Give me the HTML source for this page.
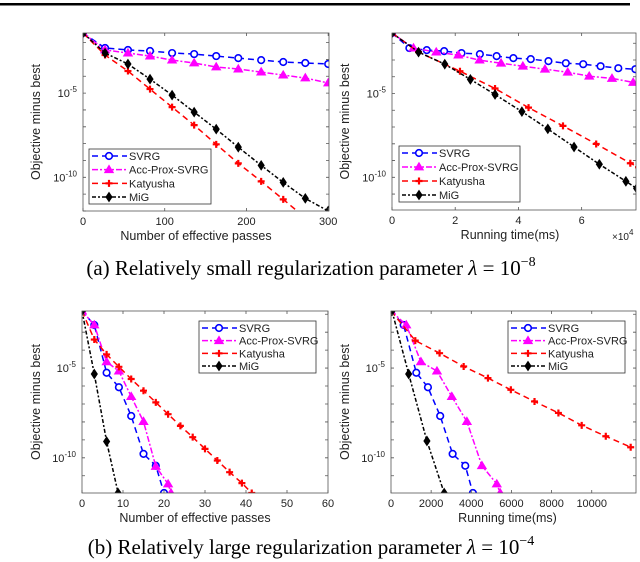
<!DOCTYPE html>
<html><head><meta charset="utf-8"><style>
html,body{margin:0;padding:0;background:#fff;}
svg{display:block;font-family:"Liberation Sans",Arial,sans-serif;}
.cap{font-family:"Liberation Serif","Times New Roman",serif;}
</style></head><body>
<svg id="fig" width="640" height="562" viewBox="0 0 640 562">
<rect x="0" y="3" width="630" height="2.5" fill="#000"/>
<text class="cap" x="311" y="275" font-size="21" text-anchor="middle">(a)  Relatively small regularization parameter <tspan font-style="italic">λ</tspan> = 10<tspan dy="-9" font-size="14">−8</tspan></text>
<text class="cap" x="311" y="554" font-size="21" text-anchor="middle">(b)  Relatively large regularization parameter <tspan font-style="italic">λ</tspan> = 10<tspan dy="-9" font-size="14">−4</tspan></text>
</svg>
<script>
// ---- Panel A1: passes, small lambda ----
const a1SvrgX=[0,27,55,82,109,136,163,190,218,245,272,300];
const a1SvrgY=[-1.43,-2.32,-2.44,-2.5,-2.62,-2.68,-2.8,-2.92,-3.04,-3.15,-3.21,-3.27];
const a1AccX=[0,27,55,82,109,136,163,190,218,245,272,300];
const a1AccY=[-1.43,-2.44,-2.62,-2.8,-3.04,-3.21,-3.45,-3.57,-3.75,-3.93,-4.1,-4.4];
const a1KatX=[0,27,55,82,109,136,163,190,218,245,272];
const a1KatY=[-1.43,-2.74,-3.69,-4.76,-5.83,-6.9,-8.04,-9.17,-10.24,-11.31,-12.4];
const a1MigX=[0,27,55,82,109,136,163,190,218,245,272,300];
const a1MigY=[-1.43,-2.62,-3.27,-4.17,-5.12,-6.13,-7.14,-8.21,-9.29,-10.3,-11.25,-12.0];
const a1XTicks=[0,100,200,300];
// ---- Panel A2: time (x1e4), small lambda ----
const a2SvrgX=[0,0.55,1.1,1.65,2.2,2.78,3.31,3.84,4.39,4.95,5.5,6.05,6.6,7.16,7.7];
const a2SvrgY=[-1.39,-2.29,-2.41,-2.47,-2.59,-2.65,-2.77,-2.89,-2.95,-3.07,-3.19,-3.25,-3.37,-3.49,-3.55];
const a2AccX=[0,0.68,1.4,2.1,2.77,3.45,4.14,4.84,5.56,6.24,6.96,7.63];
const a2AccY=[-1.39,-2.29,-2.53,-2.71,-3.01,-3.19,-3.37,-3.55,-3.73,-3.97,-4.1,-4.34];
const a2KatX=[0,0.84,2.15,3.26,4.32,5.41,6.46,7.54,7.8];
const a2KatY=[-1.39,-2.53,-3.67,-4.7,-5.84,-6.93,-8.01,-9.16,-9.4];
const a2MigX=[0,0.84,1.67,2.48,3.26,4.11,4.93,5.76,6.56,7.4,7.74];
const a2MigY=[-1.39,-2.53,-3.25,-4.16,-5.06,-6.08,-7.11,-8.19,-9.22,-10.24,-10.66];
const a2XTicks=[0,2,4,6];
// ---- Panel B1: passes, large lambda ----
const b1SvrgX=[0,3,6,9,12,15,18,20];
const b1SvrgY=[-1.82,-2.6,-5.26,-6.07,-7.67,-9.78,-10.44,-11.96];
const b1AccX=[0,3,6,9,12,15,18,21,21.7];
const b1AccY=[-1.82,-2.6,-4.65,-5.17,-6.59,-7.98,-10.48,-11.46,-11.96];
const b1KatX=[0,3,6,9,12,15,18,21,24,27,30,33,36,39,41.4];
const b1KatY=[-1.82,-3.41,-4.24,-4.93,-5.61,-6.26,-6.91,-7.57,-8.22,-8.85,-9.5,-10.15,-10.8,-11.41,-11.96];
const b1MigX=[0,3,6,8.8];
const b1MigY=[-1.82,-5.33,-9.09,-11.96];
const b1XTicks=[0,10,20,30,40,50,60];
// ---- Panel B2: time (ms), large lambda ----
const b2SvrgX=[0,630,1260,1840,2450,3070,3700,4080];
const b2SvrgY=[-1.82,-2.6,-5.26,-6.07,-7.67,-9.78,-10.44,-11.96];
const b2AccX=[0,760,1490,2290,3030,3780,4530,5270,5440];
const b2AccY=[-1.82,-2.6,-4.65,-5.17,-6.59,-7.98,-10.44,-11.46,-11.96];
const b2KatX=[0,1210,2420,3620,4830,5970,7150,8340,9500,10700,11940];
const b2KatY=[-1.82,-3.47,-4.17,-4.91,-5.56,-6.21,-6.86,-7.5,-8.19,-8.8,-9.41];
const b2MigX=[50,880,1790,2650];
const b2MigY=[-1.82,-5.33,-9.06,-11.96];
const b2XTicks=[0,2000,4000,6000,8000,10000];
const yTickExps=[-5,-10];
const seriesNames=["SVRG","Acc-Prox-SVRG","Katyusha","MiG"];

const NS="http://www.w3.org/2000/svg";
const svg=document.getElementById('fig');
function mk(tag,attrs,parent){const e=document.createElementNS(NS,tag);for(const k in attrs)e.setAttribute(k,attrs[k]);(parent||svg).appendChild(e);return e;}
const styles=[
 {color:"#0000ff",dash:"6,4",marker:"circle"},
 {color:"#ff00ff",dash:"6,2,2,2",marker:"tri"},
 {color:"#ff0000",dash:"6,4",marker:"plus"},
 {color:"#000000",dash:"4,2,2,2",marker:"diamond"}];
function marker(g,type,color,x,y){
 let m;
 if(type==="circle")m=mk('circle',{cx:x,cy:y,r:3.3,fill:"#fff",stroke:color,'stroke-width':1.6},g);
 else if(type==="tri")m=mk('polygon',{points:`${x},${y-4.5} ${x-4.5},${y+3} ${x+4.5},${y+3}`,fill:color,stroke:color,'stroke-width':0.8},g);
 else if(type==="plus")m=mk('path',{d:`M${x-3.5},${y}H${x+3.5}M${x},${y-3.5}V${y+3.5}`,stroke:color,'stroke-width':2.2,fill:"none"},g);
 else m=mk('polygon',{points:`${x},${y-4.5} ${x+3},${y} ${x},${y+4.5} ${x-3},${y}`,fill:"#000",stroke:"#000",'stroke-width':1},g);
 
 
}
let clipId=0;
function panel(p){
 const g=mk('g',{});
 
 
 const {L,R,T,B,xmin,xmax,ymin,ymax}=p;
 const sx=v=>L+(v-xmin)/(xmax-xmin)*(R-L);
 const sy=v=>B-(v-ymin)/(ymax-ymin)*(B-T);
 const cid='clip'+(clipId++);
 const cp=mk('clipPath',{id:cid},g);mk('rect',{x:L,y:T,width:R-L,height:B-T},cp);
 p.series.forEach((s,i)=>{
  const st=styles[i];
  const sg=mk('g',{'clip-path':`url(#${cid})`},g);
  
  
  const pts=s[0].map((x,j)=>sx(x).toFixed(1)+","+sy(s[1][j]).toFixed(1)).join(" ");
  mk('polyline',{points:pts,fill:"none",stroke:st.color,'stroke-width':1.5,'stroke-dasharray':st.dash},sg);
  s[0].forEach((x,j)=>marker(sg,st.marker,st.color,sx(x),sy(s[1][j])));
 });
 const box=mk('rect',{x:L,y:T,width:R-L,height:B-T,fill:"none",stroke:"#555",'stroke-width':0.8},g);
 
 
 p.xticks.forEach(v=>{
  const x=sx(v);
  mk('path',{d:`M${x},${B}v-3M${x},${T}v3`,stroke:"#555",'stroke-width':0.8},g);
  const t=mk('text',{x:x,y:B+14,'font-size':11,'text-anchor':'middle',fill:"#222"},g);
  t.textContent=v;
  
  
 });
 for(let d=Math.ceil(ymin);d<=Math.floor(ymax);d++){
  const y=sy(d);
  mk('path',{d:`M${L},${y}h3M${R},${y}h-3`,stroke:"#555",'stroke-width':0.8},g);
 }
 yTickExps.forEach(e=>{
  const y=sy(e);
  const t=mk('text',{x:L-6,y:y+4,'font-size':11,'text-anchor':'end',fill:"#222"},g);
  t.innerHTML=`10<tspan dy="-5" font-size="8">${e}</tspan>`;
  
  
 });
 const xl=mk('text',{x:(L+R)/2+p.xlOff,y:B+29,'font-size':12.5,'text-anchor':'middle',fill:"#222"},g);
 xl.textContent=p.xlabel;
 
 
 const yl=mk('text',{x:0,y:0,'font-size':12.5,'text-anchor':'middle',fill:"#222",transform:`translate(${p.ylx},${(T+B)/2}) rotate(-90)`},g);
 yl.textContent="Objective minus best";
 
 
 if(p.mult){const m=mk('text',{x:R-24,y:B+30,'font-size':10,fill:"#222"},g);m.innerHTML='×10<tspan dy="-5" font-size="8">4</tspan>';
  
  }
 const lg=mk('g',{},g);
 
 
 const [lx,ly,lw,lh]=p.legend;
 mk('rect',{x:lx,y:ly,width:lw,height:lh,fill:"#fff",stroke:"#333",'stroke-width':0.8},lg);
 seriesNames.forEach((n,i)=>{
  const st=styles[i];const y=ly+7+i*(lh-14)/3;
  const eg=mk('g',{},lg);
  
  
  mk('path',{d:`M${lx+3},${y}H${lx+38}`,stroke:st.color,'stroke-width':1.5,'stroke-dasharray':st.dash},eg);
  marker(eg,st.marker,st.color,lx+20,y);
  const t=mk('text',{x:lx+40,y:y+4,'font-size':11,fill:"#222"},eg);t.textContent=n;
 });
}
panel({name:"chart-a-passes",L:83,R:329,T:33,B:211,xmin:0,xmax:301,ymin:-12.0,ymax:-1.43,
 series:[[a1SvrgX,a1SvrgY],[a1AccX,a1AccY],[a1KatX,a1KatY],[a1MigX,a1MigY]],xticks:a1XTicks,
 xlabel:"Number of effective passes",xlOff:-10,ylx:40,legend:[89,149,122,55]});
panel({name:"chart-a-time",L:392,R:636,T:33,B:210,xmin:0,xmax:7.72,ymin:-11.95,ymax:-1.39,
 series:[[a2SvrgX,a2SvrgY],[a2AccX,a2AccY],[a2KatX,a2KatY],[a2MigX,a2MigY]],xticks:a2XTicks,
 xlabel:"Running time(ms)",xlOff:-4,ylx:349,mult:true,legend:[399,146,121,56]});
panel({name:"chart-b-passes",L:82,R:328,T:311,B:493,xmin:0,xmax:60,ymin:-11.96,ymax:-1.82,
 series:[[b1SvrgX,b1SvrgY],[b1AccX,b1AccY],[b1KatX,b1KatY],[b1MigX,b1MigY]],xticks:b1XTicks,
 xlabel:"Number of effective passes",xlOff:-10,ylx:40,legend:[199,321,117,52]});
panel({name:"chart-b-time",L:391,R:636,T:311,B:493,xmin:0,xmax:12205,ymin:-11.96,ymax:-1.82,
 series:[[b2SvrgX,b2SvrgY],[b2AccX,b2AccY],[b2KatX,b2KatY],[b2MigX,b2MigY]],xticks:b2XTicks,
 xlabel:"Running time(ms)",xlOff:-6,ylx:349,legend:[508,321,117,52]});
</script>
</body></html>
